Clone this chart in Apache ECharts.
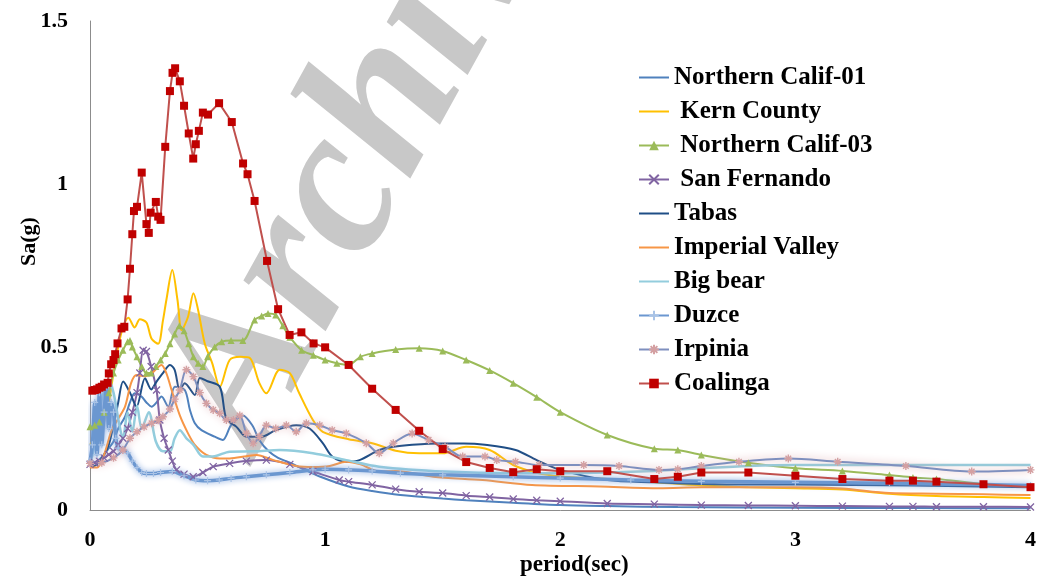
<!DOCTYPE html>
<html>
<head>
<meta charset="utf-8">
<script src="https://cdn.jsdelivr.net/npm/echarts@6/dist/echarts.min.js"></script>
<style>html,body{margin:0;padding:0;background:#fff;}#chart{width:1039px;height:582px;}</style>
</head>
<body>
<div id="chart"></div>
<script>
// ---- data (period in sec, Sa in g) ----
const xTicks = [0, 1, 2, 3, 4];
const yTicks = [0, 0.5, 1, 1.5];
const seriesNames = ['Northern Calif-01', ' Kern County', ' Northern Calif-03', ' San Fernando', 'Tabas', 'Imperial Valley', 'Big bear', 'Duzce', 'Irpinia', 'Coalinga'];

const nc01T  = [0,0.03,0.06,0.08,0.1,0.12,0.149,0.17,0.19,0.219,0.24,0.262,0.283,0.304,0.333,0.361,0.403,0.425,0.446,0.474,0.53,0.565,0.6,0.65,0.69,0.72,0.76,0.8,0.85,0.9,0.98,1.1,1.2,1.32,1.5,1.6,1.8,2.0,2.2,2.5,3.0,3.5,4.0];
const nc01Sa = [0.14,0.15,0.17,0.19,0.21,0.25,0.286,0.33,0.358,0.348,0.33,0.317,0.33,0.348,0.317,0.378,0.368,0.307,0.266,0.245,0.225,0.215,0.26,0.29,0.26,0.215,0.18,0.16,0.145,0.128,0.102,0.072,0.058,0.046,0.035,0.03,0.022,0.015,0.012,0.009,0.007,0.006,0.005];

const kernT  = [0,0.02,0.04,0.06,0.08,0.1,0.12,0.14,0.163,0.19,0.212,0.24,0.262,0.29,0.31,0.325,0.35,0.372,0.39,0.417,0.44,0.46,0.488,0.52,0.552,0.594,0.64,0.68,0.72,0.75,0.807,0.85,0.89,0.948,0.99,1.1,1.2,1.3,1.4,1.5,1.6,1.7,1.8,1.9,2.0,2.2,2.4,2.6,2.8,3.0,3.2,3.4,3.6,3.8,4.0];
const kernSa = [0.2,0.22,0.24,0.27,0.33,0.42,0.5,0.56,0.59,0.56,0.585,0.575,0.525,0.51,0.58,0.645,0.736,0.645,0.552,0.593,0.665,0.613,0.511,0.45,0.378,0.46,0.47,0.466,0.39,0.358,0.43,0.42,0.358,0.276,0.24,0.217,0.205,0.182,0.174,0.174,0.194,0.184,0.138,0.114,0.103,0.095,0.085,0.075,0.07,0.067,0.063,0.05,0.043,0.04,0.037];

const nc03T  = [0,0.02,0.04,0.06,0.08,0.1,0.12,0.14,0.16,0.17,0.18,0.2,0.22,0.24,0.26,0.28,0.3,0.32,0.34,0.36,0.38,0.4,0.42,0.44,0.46,0.48,0.5,0.53,0.56,0.6,0.65,0.7,0.73,0.757,0.79,0.82,0.85,0.9,0.95,1.0,1.05,1.1,1.15,1.2,1.3,1.4,1.5,1.6,1.7,1.8,1.9,2.0,2.2,2.4,2.5,2.6,2.8,3.0,3.2,3.4,3.5,3.6,3.8,4.0];
const nc03Sa = [0.255,0.26,0.27,0.3,0.36,0.42,0.46,0.49,0.516,0.52,0.5,0.47,0.44,0.42,0.42,0.44,0.46,0.48,0.51,0.54,0.565,0.55,0.51,0.47,0.45,0.44,0.47,0.5,0.516,0.52,0.52,0.583,0.595,0.603,0.598,0.565,0.53,0.49,0.475,0.46,0.45,0.445,0.47,0.48,0.492,0.496,0.488,0.46,0.428,0.389,0.346,0.3,0.23,0.188,0.184,0.169,0.145,0.128,0.12,0.107,0.1,0.095,0.08,0.07];

const sfT  = [0,0.02,0.04,0.06,0.08,0.1,0.12,0.14,0.16,0.18,0.2,0.212,0.226,0.24,0.26,0.283,0.297,0.315,0.333,0.35,0.368,0.4,0.439,0.48,0.524,0.594,0.665,0.75,0.85,0.948,1.06,1.1,1.2,1.3,1.4,1.5,1.6,1.7,1.8,1.9,2.0,2.2,2.4,2.6,2.8,3.0,3.2,3.4,3.5,3.6,3.8,4.0];
const sfSa = [0.14,0.145,0.15,0.16,0.17,0.18,0.2,0.22,0.25,0.3,0.36,0.42,0.49,0.486,0.44,0.368,0.276,0.22,0.184,0.15,0.123,0.11,0.102,0.115,0.133,0.143,0.15,0.153,0.14,0.118,0.092,0.087,0.077,0.064,0.056,0.052,0.044,0.04,0.034,0.03,0.027,0.02,0.018,0.015,0.014,0.013,0.012,0.011,0.011,0.01,0.01,0.009];

const tabasT  = [0,0.03,0.06,0.08,0.1,0.12,0.141,0.17,0.198,0.234,0.26,0.283,0.31,0.34,0.36,0.382,0.403,0.446,0.467,0.5,0.552,0.58,0.623,0.665,0.73,0.79,0.877,0.934,0.99,1.03,1.09,1.146,1.23,1.29,1.37,1.49,1.59,1.68,1.81,1.9,2.0,2.2,2.4,2.6,2.8,3.0,3.5,4.0];
const tabasSa = [0.13,0.14,0.17,0.2,0.26,0.33,0.394,0.36,0.317,0.404,0.37,0.394,0.42,0.445,0.43,0.368,0.389,0.353,0.405,0.395,0.378,0.28,0.255,0.225,0.225,0.245,0.26,0.25,0.205,0.164,0.148,0.153,0.184,0.194,0.2,0.204,0.204,0.2,0.184,0.153,0.123,0.092,0.085,0.08,0.078,0.078,0.075,0.07];

const ivT  = [0,0.03,0.06,0.092,0.12,0.149,0.175,0.198,0.23,0.262,0.304,0.325,0.347,0.382,0.417,0.446,0.495,0.552,0.594,0.665,0.708,0.78,0.877,0.95,1.02,1.09,1.15,1.23,1.3,1.46,1.67,1.88,2.17,2.42,2.6,2.8,3.0,3.2,3.4,3.6,3.8,4.0];
const ivSa = [0.13,0.13,0.17,0.245,0.28,0.317,0.39,0.414,0.41,0.419,0.445,0.419,0.368,0.29,0.235,0.2,0.169,0.158,0.158,0.165,0.169,0.153,0.135,0.132,0.135,0.148,0.14,0.118,0.12,0.102,0.092,0.077,0.072,0.067,0.07,0.07,0.07,0.066,0.052,0.05,0.048,0.046];

const bbT  = [0,0.02,0.04,0.06,0.08,0.1,0.12,0.14,0.16,0.18,0.2,0.22,0.25,0.28,0.31,0.34,0.36,0.382,0.41,0.44,0.48,0.53,0.594,0.7,0.807,0.948,1.09,1.23,1.51,1.8,2.0,2.2,2.4,2.6,2.8,3.0,3.5,4.0];
const bbSa = [0.14,0.2,0.3,0.37,0.4,0.36,0.28,0.22,0.3,0.24,0.32,0.25,0.3,0.21,0.18,0.18,0.22,0.245,0.22,0.2,0.164,0.165,0.179,0.18,0.184,0.174,0.153,0.133,0.118,0.113,0.113,0.115,0.12,0.128,0.135,0.138,0.138,0.138];

const duzceT  = [0,0.01,0.02,0.03,0.04,0.05,0.06,0.07,0.08,0.09,0.1,0.11,0.12,0.14,0.16,0.18,0.2,0.22,0.24,0.27,0.3,0.35,0.4,0.45,0.5,0.55,0.6,0.665,0.75,0.85,0.948,1.0,1.1,1.2,1.32,1.5,1.8,2.0,2.3,2.6,3.0,3.4,3.8,4.0];
const duzceSa = [0.15,0.2,0.33,0.17,0.36,0.2,0.3,0.38,0.25,0.33,0.3,0.22,0.19,0.185,0.175,0.15,0.13,0.115,0.112,0.112,0.115,0.118,0.105,0.092,0.09,0.092,0.097,0.102,0.108,0.115,0.123,0.125,0.123,0.12,0.113,0.108,0.102,0.098,0.092,0.088,0.085,0.082,0.078,0.075];

const irpT  = [0,0.05,0.1,0.14,0.17,0.2,0.23,0.262,0.29,0.31,0.34,0.36,0.382,0.41,0.44,0.467,0.495,0.524,0.552,0.58,0.61,0.637,0.665,0.694,0.72,0.75,0.79,0.835,0.877,0.92,0.977,1.03,1.09,1.175,1.23,1.29,1.37,1.44,1.51,1.585,1.68,1.73,1.81,1.91,2.1,2.25,2.42,2.5,2.6,2.76,2.97,3.18,3.47,3.75,4.0];
const irpSa = [0.143,0.145,0.16,0.184,0.22,0.24,0.255,0.266,0.275,0.286,0.31,0.34,0.368,0.43,0.409,0.36,0.327,0.307,0.297,0.276,0.276,0.29,0.235,0.205,0.225,0.26,0.25,0.26,0.24,0.266,0.26,0.245,0.235,0.205,0.174,0.205,0.235,0.215,0.194,0.164,0.164,0.153,0.148,0.138,0.138,0.135,0.123,0.125,0.135,0.148,0.158,0.148,0.135,0.118,0.123];

const coalT  = [0.01,0.02,0.03,0.04,0.05,0.06,0.075,0.08,0.09,0.1,0.107,0.117,0.134,0.146,0.16,0.17,0.18,0.187,0.2,0.22,0.24,0.25,0.258,0.28,0.29,0.3,0.32,0.34,0.351,0.362,0.382,0.4,0.42,0.439,0.45,0.463,0.48,0.502,0.549,0.603,0.651,0.67,0.7,0.753,0.8,0.849,0.899,0.951,1.0,1.1,1.2,1.3,1.4,1.5,1.6,1.7,1.8,1.9,2.0,2.2,2.4,2.5,2.6,2.8,3.0,3.2,3.4,3.5,3.6,3.8,4.0];
const coalSa = [0.366,0.368,0.37,0.375,0.378,0.385,0.39,0.419,0.447,0.46,0.478,0.511,0.557,0.562,0.646,0.74,0.846,0.917,0.93,1.035,0.877,0.85,0.912,0.945,0.9,0.89,1.114,1.285,1.341,1.355,1.315,1.24,1.155,1.078,1.122,1.163,1.219,1.213,1.248,1.19,1.063,1.03,0.948,0.764,0.616,0.537,0.545,0.511,0.499,0.445,0.372,0.307,0.243,0.187,0.147,0.129,0.116,0.125,0.119,0.119,0.095,0.102,0.115,0.115,0.105,0.095,0.09,0.09,0.087,0.079,0.07];

// ---- helpers ----
const pair = (t, v) => t.map((x, i) => [x, v[i]]);
const SERIF = '"Liberation Serif", "Times New Roman", serif';
const crossPath = 'path://M0,0L10,10M10,0L0,10';
const plusPath = 'path://M5,0L5,10M0,5L10,5';
const starPath = 'path://M5,0L5,10M0,5L10,5M1.5,1.5L8.5,8.5M8.5,1.5L1.5,8.5';
const NOCOLOR = 'rgba(0,0,0,0)';

function lineSeries(name, data, color, width, smooth, extra) {
  return Object.assign({
    name: name, type: 'line', data: data, smooth: smooth,
    symbol: 'none', showSymbol: false,
    lineStyle: { color: color, width: width },
    itemStyle: { color: NOCOLOR },
    emphasis: { disabled: true }
  }, extra || {});
}

const series = [
  lineSeries(seriesNames[0], pair(nc01T, nc01Sa), '#4F81BD', 2, 0.3),
  lineSeries(seriesNames[1], pair(kernT, kernSa), '#FFC000', 2, 0.3),
  lineSeries(seriesNames[2], pair(nc03T, nc03Sa), '#9BBB59', 2, 0.3, {
    symbol: 'triangle', symbolSize: 7, showSymbol: true, showAllSymbol: true,
    itemStyle: { color: '#9BBB59' }
  }),
  lineSeries(seriesNames[3], pair(sfT, sfSa), '#8064A2', 2, 0.3, {
    symbol: crossPath, symbolSize: 7, showSymbol: true, showAllSymbol: true,
    itemStyle: { color: '#8064A2', borderColor: '#8064A2', borderWidth: 1.3 }
  }),
  lineSeries(seriesNames[4], pair(tabasT, tabasSa), '#1F4E86', 2, 0.3),
  lineSeries(seriesNames[5], pair(ivT, ivSa), '#F79646', 2, 0.3),
  lineSeries(seriesNames[6], pair(bbT, bbSa), '#93CDDD', 2.5, 0.3),
  lineSeries(seriesNames[7], pair(duzceT, duzceSa), '#5E8FCB', 3, 0.3, {
    symbol: plusPath, symbolSize: 7, showSymbol: true, showAllSymbol: true,
    itemStyle: { color: '#A9C3E6', borderColor: '#A9C3E6', borderWidth: 1.2 },
    lineStyle: { color: '#6B97D0', width: 3.5, shadowColor: 'rgba(130,165,220,1)', shadowBlur: 6 }
  }),
  lineSeries(seriesNames[8], pair(irpT, irpSa), '#4F81BD', 1.5, 0.3, {
    symbol: starPath, symbolSize: 8, showSymbol: true, showAllSymbol: true,
    itemStyle: { color: '#D4A0A2', borderColor: '#D4A0A2', borderWidth: 1.4 },
    lineStyle: { color: '#7E8FBE', width: 2, shadowColor: 'rgba(214,155,160,1)', shadowBlur: 9 }
  }),
  lineSeries(seriesNames[9], pair(coalT, coalSa), '#C0504D', 2, false, {
    symbol: 'rect', symbolSize: 8, showSymbol: true, showAllSymbol: true,
    itemStyle: { color: '#C00000' }
  })
];

const chart = echarts.init(document.getElementById('chart'), null, { renderer: 'canvas' });
chart.setOption({
  animation: false,
  backgroundColor: '#ffffff',
  grid: { left: 90, right: 7, top: 21, bottom: 72, containLabel: false },
  graphic: [{
    type: 'text', x: 300, y: 482, rotation: 61 * Math.PI / 180, z: -10, silent: true,
    style: { text: 'Archive', font: 'italic bold 210px ' + SERIF, fill: '#C8C8C8', align: 'left', verticalAlign: 'bottom' }
  }],
  legend: {
    orient: 'vertical', left: 633, top: 60, itemGap: 9, itemWidth: 30, itemHeight: 12,
    data: seriesNames,
    textStyle: { fontFamily: SERIF, fontWeight: 'bold', fontSize: 25, color: '#000' }
  },
  xAxis: {
    type: 'value', min: xTicks[0], max: xTicks[xTicks.length - 1], interval: 1,
    name: 'period(sec)', nameLocation: 'middle', nameGap: 44, nameMoveOverlap: false,
    nameTextStyle: { fontFamily: SERIF, fontWeight: 'bold', fontSize: 23, color: '#000', padding: [0, 0, 0, 28] },
    axisLine: { lineStyle: { color: '#8C8C8C', width: 1 } },
    axisTick: { show: false }, splitLine: { show: false },
    axisLabel: { fontFamily: SERIF, fontWeight: 'bold', fontSize: 22, color: '#000', margin: 19 }
  },
  yAxis: {
    type: 'value', min: yTicks[0], max: yTicks[yTicks.length - 1], interval: 0.5,
    name: 'Sa(g)', nameLocation: 'middle', nameGap: 50, nameRotate: 90, nameMoveOverlap: false,
    nameTextStyle: { fontFamily: SERIF, fontWeight: 'bold', fontSize: 22, color: '#000', padding: [0, 0, 0, 48] },
    axisLine: { show: true, lineStyle: { color: '#8C8C8C', width: 1 } },
    axisTick: { show: false }, splitLine: { show: false },
    axisLabel: { fontFamily: SERIF, fontWeight: 'bold', fontSize: 22, color: '#000', margin: 22 }
  },
  series: series
});
</script>
</body>
</html>
